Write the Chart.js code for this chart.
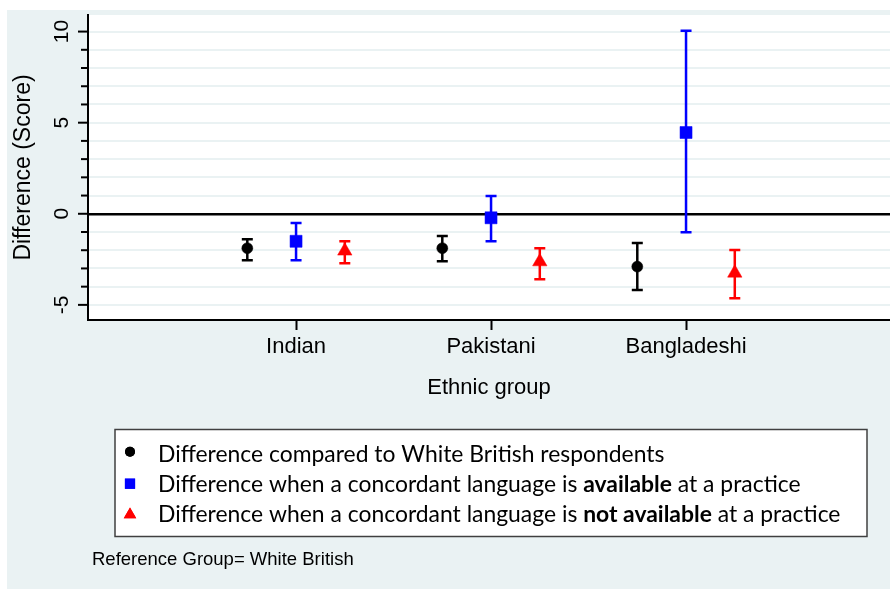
<!DOCTYPE html>
<html>
<head>
<meta charset="utf-8">
<script src="https://cdn.jsdelivr.net/npm/chart.js@4.4.1/dist/chart.umd.min.js"></script>
<style>
	html, body { margin: 0; padding: 0; background: #fff; }
	canvas { display: block; }
</style>
</head>
<body>
<canvas id="chart" width="890" height="589"></canvas>
<script>
// Groups on the x axis
const GROUPS        = ['Indian', 'Pakistani', 'Bangladeshi'];

// Difference compared to White British respondents
const overallEst    = [-1.89, -1.89, -2.90];
const overallLo     = [-2.55, -2.61, -4.19];
const overallHi     = [-1.40, -1.22, -1.60];

// Concordant language available at a practice
const availEst      = [-1.51, -0.22,  4.46];
const availLo       = [-2.55, -1.51, -1.02];
const availHi       = [-0.51,  0.97, 10.04];

// Concordant language not available at a practice
const notAvailEst   = [-2.04, -2.63, -3.25];
const notAvailLo    = [-2.71, -3.59, -4.63];
const notAvailHi    = [-1.51, -1.89, -1.99];

// Axis ticks
const Y_TICK_LABELS = [-5, 0, 5, 10];
const Y_MIN = -5.83, Y_MAX = 10.91;
const X_MIN = -0.067, X_MAX = 4.046;

const LEGEND_ROWS = [
	[['Difference compared to White British respondents', false]],
	[['Difference when a concordant language is ', false], ['available', true], [' at a practice', false]],
	[['Difference when a concordant language is ', false], ['not available', true], [' at a practice', false]],
];
const NOTE = 'Reference Group= White British';

const BG     = '#eaf2f3';
const SERIES = [
	{ est: overallEst,  lo: overallLo,  hi: overallHi,  color: '#000000', style: 'circle',   radius: 5.5, shift: -0.25 },
	{ est: availEst,    lo: availLo,    hi: availHi,    color: '#0000ff', style: 'rect',     radius: 8.5, shift: 0 },
	{ est: notAvailEst, lo: notAvailLo, hi: notAvailHi, color: '#ff0000', style: 'triangle', radius: 8.3, shift: 0.25 },
];

const pos = i => i + 1;

// Background panels
const backdrop = {
	id: 'backdrop',
	beforeDraw(chart) {
		const { ctx, chartArea: a } = chart;
		ctx.save();
		ctx.fillStyle = '#fff';
		ctx.fillRect(0, 0, chart.width, chart.height);
		ctx.fillStyle = BG;
		ctx.fillRect(7, 10, chart.width - 7, chart.height - 10);
		ctx.fillStyle = '#fff';
		ctx.fillRect(a.left, a.top, a.right - a.left, a.bottom - a.top);
		ctx.restore();
	}
};

// Confidence intervals under the markers
const errorBars = {
	id: 'errorBars',
	beforeDatasetsDraw(chart) {
		const { ctx, scales: { x, y } } = chart;
		ctx.save();
		ctx.lineWidth = 2.5;
		SERIES.forEach(s => {
			ctx.strokeStyle = s.color;
			s.est.forEach((_, i) => {
				const px = x.getPixelForValue(pos(i) + s.shift);
				const yl = y.getPixelForValue(s.lo[i]);
				const yh = y.getPixelForValue(s.hi[i]);
				ctx.beginPath();
				ctx.moveTo(px, yl); ctx.lineTo(px, yh);
				ctx.moveTo(px - 5.5, yl); ctx.lineTo(px + 5.5, yl);
				ctx.moveTo(px - 5.5, yh); ctx.lineTo(px + 5.5, yh);
				ctx.stroke();
			});
		});
		ctx.restore();
	}
};

// Y tick marks (major every 5) and rotated labels, legend and note
const decorations = {
	id: 'decorations',
	afterDraw(chart) {
		const { ctx, scales: { y }, chartArea: a } = chart;
		ctx.save();
		ctx.strokeStyle = '#000';
		ctx.lineWidth = 2;
		for (let v = Math.ceil(Y_MIN); v <= Math.floor(Y_MAX); v++) {
			const py = y.getPixelForValue(v);
			const len = v % 5 === 0 ? 10 : 7;
			ctx.beginPath();
			ctx.moveTo(a.left - len, py); ctx.lineTo(a.left, py);
			ctx.stroke();
		}
		ctx.fillStyle = '#000';
		ctx.font = '21px "Liberation Sans", Arial, sans-serif';
		ctx.textAlign = 'center';
		ctx.textBaseline = 'alphabetic';
		Y_TICK_LABELS.forEach(v => {
			ctx.save();
			ctx.translate(68, y.getPixelForValue(v));
			ctx.rotate(-Math.PI / 2);
			ctx.fillText(String(v), 0, 0);
			ctx.restore();
		});

		// legend box
		ctx.fillStyle = '#fff';
		ctx.fillRect(115, 429.5, 752, 107);
		ctx.strokeStyle = '#404040';
		ctx.lineWidth = 1.5;
		ctx.strokeRect(115, 429.5, 752, 107);
		const markers = [
			{ style: 'circle', radius: 5, dy: -2 },
			{ style: 'rect', radius: 7.2, dy: 0 },
			{ style: 'triangle', radius: 7.2, dy: 1 },
		];
		LEGEND_ROWS.forEach((row, r) => {
			const base = 461.7 + r * 30;
			const m = markers[r];
			ctx.fillStyle = SERIES[r].color;
			Chart.helpers.drawPoint(ctx, { pointStyle: m.style, radius: m.radius, borderWidth: 0 }, 130, base - 8 + m.dy);
			ctx.fill();
			let tx = 158;
			ctx.textAlign = 'left';
			ctx.textBaseline = 'alphabetic';
			ctx.fillStyle = '#000';
			row.forEach(([text, bold]) => {
				ctx.font = (bold ? 'bold ' : '') + '22.9px Lato, sans-serif';
				ctx.fillText(text, tx, base);
				tx += ctx.measureText(text).width;
			});
		});

		ctx.font = '18.5px "Liberation Sans", Arial, sans-serif';
		ctx.fillStyle = '#000';
		ctx.fillText(NOTE, 92, 565);
		ctx.restore();
	}
};

new Chart(document.getElementById('chart'), {
	type: 'scatter',
	data: {
		datasets: SERIES.map(s => ({
			data: s.est.map((v, i) => ({ x: pos(i) + s.shift, y: v })),
			pointStyle: s.style,
			pointRadius: s.radius,
			pointBackgroundColor: s.color,
			pointBorderColor: s.color,
			pointBorderWidth: 0.5,
			showLine: false,
		}))
	},
	options: {
		responsive: false,
		animation: false,
		layout: { autoPadding: false, padding: { left: 0, top: 15, right: 0, bottom: 188 } },
		plugins: { legend: { display: false }, tooltip: { enabled: false } },
		scales: {
			x: {
				type: 'linear',
				min: X_MIN,
				max: X_MAX,
				afterBuildTicks: s => { s.ticks = GROUPS.map((_, i) => ({ value: pos(i) })); },
				afterFit: s => { s.height = 81; s.paddingLeft = 0; s.paddingRight = 0; },
				ticks: {
					callback: (v, i) => GROUPS[i],
					font: { family: '"Liberation Sans", Arial, sans-serif', size: 22 },
					color: '#000',
					padding: 4,
					maxRotation: 0,
					autoSkip: false
				},
				grid: { drawOnChartArea: false, drawTicks: true, tickLength: 10, tickColor: '#000', tickWidth: 2 },
				border: { display: true, color: '#000', width: 2 },
				title: {
					display: true,
					text: 'Ethnic group',
					color: '#000',
					font: { family: '"Liberation Sans", Arial, sans-serif', size: 22 },
					padding: 0
				}
			},
			y: {
				min: Y_MIN,
				max: Y_MAX,
				afterBuildTicks: s => { s.ticks = s.ticks.filter(t => Number.isInteger(t.value)); },
				afterFit: s => { s.width = 88; s.paddingTop = 0; s.paddingBottom = 0; },
				ticks: { stepSize: 1, display: false },
				grid: {
					drawTicks: false,
					color: c => c.tick && c.tick.value === 0 ? '#000' : BG,
					lineWidth: c => c.tick && c.tick.value === 0 ? 2.5 : 2
				},
				border: { display: true, color: '#000', width: 2 },
				title: {
					display: true,
					text: 'Difference (Score)',
					color: '#000',
					font: { family: '"Liberation Sans", Arial, sans-serif', size: 23 },
					padding: { top: 10, bottom: 0 }
				}
			}
		}
	},
	plugins: [backdrop, errorBars, decorations]
});
</script>
</body>
</html>
